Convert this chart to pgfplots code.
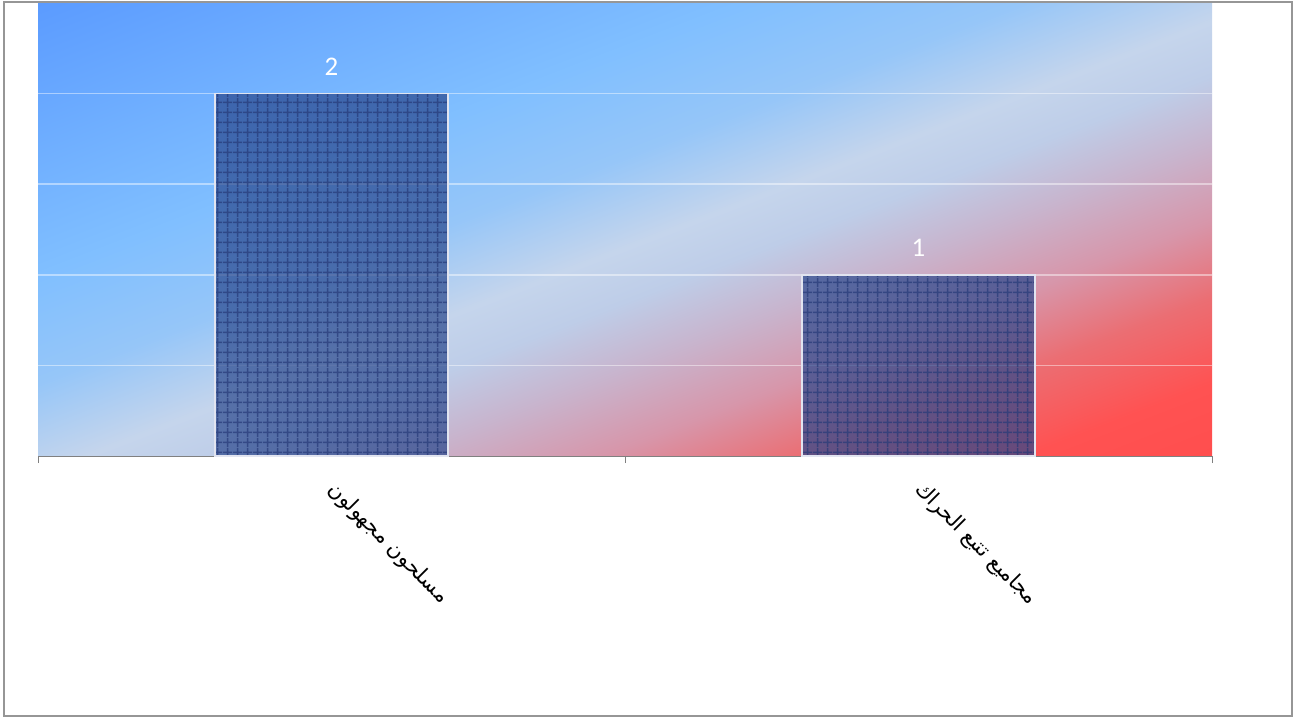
\documentclass[border=0pt]{standalone}
\usepackage{pgfplots}
\pgfplotsset{compat=1.18}
\usepackage{fontspec}
\setmainfont{Carlito}
\newfontfamily\arabicfont[Script=Arabic]{DejaVu Sans}
\TeXXeTstate=1
\usetikzlibrary{patterns.meta}
\definecolor{c0}{RGB}{91,155,255}
\definecolor{c1}{RGB}{128,191,255}
\definecolor{c1b}{RGB}{150,198,248}
\definecolor{c2}{RGB}{197,213,236}
\definecolor{c2b}{RGB}{190,205,232}
\definecolor{c3}{RGB}{200,180,205}
\definecolor{c3b}{RGB}{215,150,170}
\definecolor{c4}{RGB}{235,110,115}
\definecolor{c5}{RGB}{255,82,82}
\definecolor{c6}{RGB}{255,78,78}
\definecolor{barfill}{RGB}{40,70,140}
\definecolor{barline}{RGB}{38,58,120}
\definecolor{frame}{RGB}{150,150,150}
\pgfdeclarehorizontalshading{bgshade}{100bp}{color(0bp)=(c0); color(25bp)=(c0); color(40bp)=(c1); color(46bp)=(c1b); color(51bp)=(c2); color(54bp)=(c2b); color(57.75bp)=(c3); color(62bp)=(c3b); color(66.25bp)=(c4); color(71bp)=(c5); color(75bp)=(c6); color(100bp)=(c6)}
\begin{document}
\begin{tikzpicture}
\begin{axis}[
  scale only axis,
  width=1174bp, height=453bp,
  xmin=-0.5, xmax=1.5, ymin=0, ymax=2.5,
  enlargelimits=false,
  axis background/.style={path picture={
    \node[inner sep=0pt, outer sep=0pt, transform shape, rotate=-68.9, xscale=16.9, yscale=14]
      at (path picture bounding box.center) {\pgfuseshading{bgshade}};}},
  axis x line*=bottom, axis y line*=left,
  y axis line style={draw=none},
  x axis line style={draw=gray, line width=1bp, -},
  ytick={0.5,1,1.5,2}, yticklabels={}, ytick style={draw=none},
  ymajorgrids, major grid style={draw=white, draw opacity=0.45, line width=1.5bp},
  xtick={0,1},
  xticklabels={{\arabicfont\beginR مسلحون مجهولون\endR},{\arabicfont\beginR مجاميع تتبع الحراك\endR}},
  xtick style={draw=none},
  extra x ticks={-0.5,0.5,1.5}, extra x tick labels={},
  extra x tick style={xtick style={draw=gray, line width=1bp}, major tick length=7bp, tick align=outside, grid=none},
  xticklabel style={xshift=7bp, yshift=-18bp, rotate=-45, anchor=north west, font=\fontsize{21}{21}\selectfont, text=black},
  /pgf/number format/assume math mode=true,
  nodes near coords,
  nodes near coords style={font=\fontsize{27}{27}\selectfont, text=white, opacity=1, fill opacity=1, text opacity=1, yshift=14bp},
]
\addplot[ybar, bar width=233bp, draw={rgb,255:red,225;green,228;blue,240}, line width=1.5bp,
  fill=barfill, fill opacity=0.7,
  postaction={pattern={Hatch[distance=9.5bp, angle=0, line width=1.6bp]}, pattern color=barline}]
  coordinates {(0,2) (1,1)};
\end{axis}
\path ([xshift=-38bp,yshift=-262bp]current axis.south west) rectangle ([xshift=81bp,yshift=3bp]current axis.north east);
\draw[frame, line width=1.3bp] ([xshift=-34bp,yshift=-260bp]current axis.south west) rectangle ([xshift=80bp,yshift=1bp]current axis.north east);
\end{tikzpicture}
\end{document}
